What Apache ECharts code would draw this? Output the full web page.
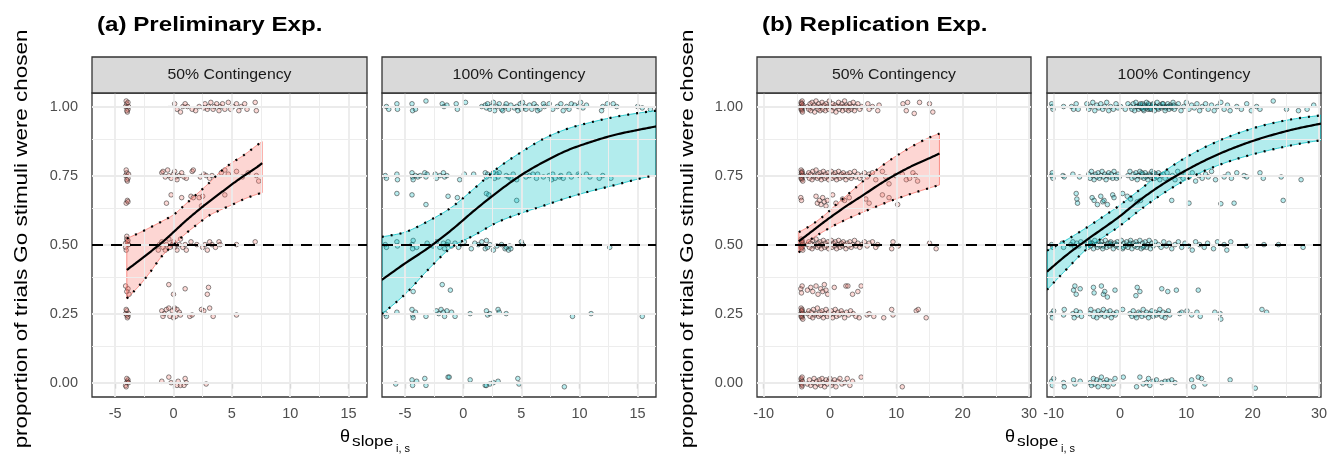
<!DOCTYPE html>
<html>
<head>
<meta charset="utf-8">
<script src="https://cdn.jsdelivr.net/npm/echarts@6/dist/echarts.min.js"></script>
<style>
  html, body { margin: 0; padding: 0; background: #ffffff; }
  #chart { width: 1337px; height: 455px; }
</style>
</head>
<body>
<div id="chart"></div>
<script>
// ---------------- data ----------------
const panelTitles = ['(a) Preliminary Exp.', '(b) Replication Exp.'];
const stripLabels = ['50% Contingency', '100% Contingency', '50% Contingency', '100% Contingency'];
const yLabelText = 'proportion of trials Go stimuli were chosen';

const yTicks = [0, 0.25, 0.5, 0.75, 1];
const yMinor = [0.125, 0.375, 0.625, 0.875];
const xTicksPrelim = [-5, 0, 5, 10, 15];
const xMinorPrelim = [-2.5, 2.5, 7.5, 12.5];
const xTicksRepl = [-10, 0, 10, 20, 30];
const xMinorRepl = [-5, 5, 15, 25];

// fitted curve and interval, Preliminary / 50%
const prelimHalfX   = [-4, -3, -2, -1, 0, 1, 2, 3, 4, 5, 6, 7, 7.6];
const prelimHalfFit = [0.408, 0.44, 0.473, 0.507, 0.545, 0.584, 0.62, 0.654, 0.686, 0.718, 0.748, 0.776, 0.795];
const prelimHalfUp  = [0.522, 0.541, 0.562, 0.584, 0.608, 0.645, 0.683, 0.721, 0.763, 0.796, 0.823, 0.855, 0.873];
const prelimHalfLo  = [0.305, 0.348, 0.40, 0.458, 0.499, 0.538, 0.572, 0.604, 0.625, 0.644, 0.664, 0.68, 0.688];

// Preliminary / 100%
const prelimFullX   = [-7, -5, -3, -1, 1, 3, 5, 7, 9, 11, 13, 15, 16.6];
const prelimFullFit = [0.372, 0.432, 0.488, 0.553, 0.625, 0.692, 0.752, 0.801, 0.842, 0.872, 0.897, 0.915, 0.928];
const prelimFullUp  = [0.528, 0.545, 0.585, 0.635, 0.705, 0.778, 0.835, 0.885, 0.92, 0.943, 0.962, 0.976, 0.985];
const prelimFullLo  = [0.248, 0.32, 0.41, 0.49, 0.535, 0.582, 0.614, 0.642, 0.67, 0.694, 0.715, 0.737, 0.752];

// Replication / 50%
const replHalfX   = [-4.7, -3, -1, 1, 3, 5, 7, 9, 11, 13, 15, 16.5];
const replHalfFit = [0.512, 0.543, 0.58, 0.615, 0.648, 0.679, 0.711, 0.741, 0.768, 0.792, 0.813, 0.83];
const replHalfUp  = [0.545, 0.568, 0.603, 0.646, 0.688, 0.73, 0.77, 0.805, 0.836, 0.864, 0.888, 0.902];
const replHalfLo  = [0.471, 0.516, 0.547, 0.574, 0.597, 0.618, 0.638, 0.657, 0.674, 0.69, 0.705, 0.716];

// Replication / 100%
const replFullX   = [-11, -8, -5, -2, 0, 3, 6, 9, 12, 15, 18, 21, 24, 27, 30.3];
const replFullFit = [0.402, 0.463, 0.517, 0.568, 0.603, 0.661, 0.712, 0.756, 0.795, 0.829, 0.858, 0.883, 0.904, 0.922, 0.938];
const replFullUp  = [0.478, 0.518, 0.562, 0.61, 0.643, 0.699, 0.754, 0.802, 0.843, 0.877, 0.905, 0.928, 0.945, 0.958, 0.968];
const replFullLo  = [0.336, 0.412, 0.484, 0.535, 0.568, 0.625, 0.677, 0.722, 0.759, 0.789, 0.813, 0.833, 0.85, 0.865, 0.878];

// jittered participant observations [theta_slope, proportion]
const prelimHalfPts = [
  [-4.0,1.01],[-3.9,0.99],[-4.1,1.0],[-3.95,0.98],[-4.05,1.02],[-3.85,1.0],[-4.0,0.985],[-3.9,1.015],
  [0.1,1.01],[0.3,0.99],[0.6,0.98],[0.8,1.0],[1.0,1.01],[1.2,1.0],[1.6,0.99],[1.9,0.985],[2.2,1.0],[2.6,0.995],[2.7,1.01],[2.9,0.99],[3.0,1.0],[3.2,1.015],[3.4,0.99],[3.5,1.0],[3.7,1.01],[3.9,0.985],[4.0,1.0],[4.2,1.01],[4.4,0.99],[4.7,1.015],[4.9,0.99],[5.1,1.0],[5.4,1.01],[5.6,0.985],[5.8,1.0],[6.1,1.01],[6.3,0.99],[7.0,1.015],[7.1,0.985],
  [-4.0,0.76],[-3.9,0.74],[-4.1,0.75],[-3.95,0.73],[-4.05,0.77],[-3.85,0.755],[-4.0,0.735],[-3.95,0.66],[-4.05,0.65],[-3.9,0.655],
  [-1.0,0.76],[-0.9,0.765],[-0.7,0.745],[-0.5,0.77],[-0.4,0.75],[-0.2,0.74],[0.0,0.755],[0.1,0.765],[0.2,0.745],[0.3,0.735],[0.5,0.75],[0.7,0.76],[0.9,0.745],[1.1,0.74],[1.6,0.765],[1.7,0.77],[2.3,0.745],[2.6,0.755],[2.8,0.75],[3.1,0.74],[3.3,0.75],[4.1,0.76],[4.4,0.77],[4.7,0.755],[5.4,0.765],[5.9,0.745],[6.4,0.76],[7.1,0.75],[7.3,0.73],
  [-0.6,0.65],[-0.2,0.68],[0.7,0.67],[1.5,0.675],[1.7,0.67],[2.2,0.67],[2.4,0.64],[4.4,0.68],[2.5,0.675],
  [-4.0,0.52],[-3.9,0.5],[-4.1,0.49],[-3.95,0.51],[-4.05,0.48],[-3.85,0.5],[-4.0,0.53],[-3.9,0.515],[-4.1,0.505],
  [-1.3,0.48],[-1.2,0.5],[-1.0,0.51],[-0.9,0.49],[-0.7,0.48],[-0.6,0.5],[-0.4,0.52],[-0.3,0.49],[-0.1,0.5],[0.0,0.51],[0.1,0.49],[0.2,0.5],[0.3,0.48],[0.5,0.5],[0.6,0.52],[0.8,0.49],[1.0,0.5],[1.1,0.48],[1.5,0.51],[2.0,0.5],[2.5,0.49],[2.7,0.5],[2.9,0.48],[3.1,0.51],[3.3,0.5],[3.6,0.49],[3.9,0.51],[4.0,0.5],[5.4,0.5],[7.0,0.51],
  [-3.9,0.34],[-4.0,0.33],[-3.8,0.32],[-4.1,0.35],[-0.4,0.355],[0.0,0.32],[1.0,0.34],[2.9,0.32],[3.0,0.345],
  [-4.0,0.26],[-3.9,0.24],[-4.1,0.25],[-3.95,0.235],[-4.05,0.265],[-3.85,0.25],[-4.0,0.245],
  [-1.0,0.26],[-0.9,0.24],[-0.8,0.25],[-0.6,0.265],[-0.4,0.27],[-0.3,0.24],[-0.1,0.26],[0.0,0.235],[0.1,0.27],[0.2,0.24],[0.3,0.265],[0.5,0.255],[0.6,0.245],[1.4,0.24],[1.6,0.245],[2.4,0.265],[2.6,0.26],[3.1,0.27],[3.4,0.24],[5.4,0.245],
  [-4.0,0.0],[-3.9,0.01],[-4.1,-0.01],[-3.95,0.005],[-4.05,-0.015],[-3.85,0.0],[-4.0,0.015],
  [-1.0,0.005],[-0.4,0.02],[-0.2,0.0],[0.3,-0.01],[0.4,0.005],[0.6,-0.01],[0.9,-0.01],[1.0,0.015],[1.1,0.0],[2.8,-0.005]
];

const prelimFullPts = [
  [-6.6,1.0],[-6.4,0.99],[-5.7,1.01],[-5.65,0.99],[-4.4,1.01],[-4.35,0.985],[-4.1,0.99],[-3.2,1.02],[-1.8,1.01],[-1.65,1.0],[-1.4,1.005],[-0.6,1.01],[-0.5,0.99],[0.2,1.015],[1.6,1.0],[1.9,1.005],[2.0,0.995],[2.1,1.01],[2.3,0.99],[2.4,1.0],[2.6,1.015],[2.7,0.985],[2.9,1.0],[3.1,1.01],[3.3,0.99],[3.4,0.985],[3.6,1.0],[3.7,1.01],[3.9,0.99],[4.1,1.005],[4.4,0.995],[4.6,1.0],[4.7,0.985],[4.9,1.01],[5.0,0.99],[5.1,1.015],[5.3,1.0],[5.4,0.99],[5.7,1.005],[5.9,0.99],[6.1,1.01],[6.3,1.0],[6.4,0.985],[6.6,0.99],[6.9,1.01],[7.0,1.0],[7.4,1.01],[7.7,0.99],[8.1,1.0],[8.4,1.01],[8.6,0.985],[8.9,1.0],[9.1,0.99],[9.3,1.01],[9.6,1.005],[9.9,1.0],[10.1,1.015],[10.3,0.995],[10.6,1.005],[11.9,0.985],[12.0,1.0],[12.4,1.01],[12.9,1.01],[13.2,1.0],[15.0,1.0],[15.4,0.995],[16.1,0.99],
  [-6.7,0.75],[-6.6,0.74],[-5.7,0.755],[-5.65,0.735],[-4.4,0.76],[-4.35,0.745],[-4.3,0.735],[-4.1,0.75],[-3.9,0.745],[-3.7,0.75],[-3.3,0.76],[-3.2,0.745],[-3.1,0.755],[-2.4,0.755],[-2.3,0.74],[-2.0,0.75],[-1.7,0.76],[-1.6,0.745],[-1.4,0.75],[-0.3,0.735],[0.1,0.755],[0.9,0.755],[1.9,0.76],[2.0,0.745],[2.1,0.755],[2.4,0.75],[2.6,0.76],[2.7,0.74],[2.9,0.755],[3.0,0.745],[3.1,0.76],[3.7,0.75],[3.9,0.745],[4.1,0.74],[4.3,0.755],[4.6,0.735],[5.4,0.745],[5.7,0.75],[6.0,0.755],[6.3,0.74],[6.4,0.755],[6.9,0.745],[7.4,0.75],[7.6,0.735],[7.7,0.755],[7.9,0.74],[8.3,0.745],[8.4,0.75],[8.6,0.74],[9.1,0.755],[9.3,0.745],[9.9,0.755],[10.0,0.75],[10.6,0.755],[10.9,0.745],[11.7,0.74],[12.0,0.75],[12.7,0.74],
  [-5.7,0.685],[-4.4,0.68],[-3.2,0.645],[-1.3,0.675],[-0.5,0.67],[2.0,0.685],[2.2,0.68],[4.6,0.66],
  [-6.7,0.5],[-6.6,0.49],[-5.7,0.51],[-5.65,0.495],[-4.4,0.5],[-4.35,0.485],[-4.3,0.515],[-4.0,0.49],[-3.1,0.505],[-2.6,0.495],[-2.3,0.51],[-2.0,0.49],[-1.7,0.505],[-1.6,0.485],[-1.4,0.5],[-1.3,0.51],[-1.0,0.495],[-0.7,0.505],[-0.4,0.49],[-0.1,0.5],[0.1,0.51],[0.7,0.485],[1.0,0.505],[1.3,0.5],[1.6,0.51],[1.9,0.485],[2.0,0.515],[2.1,0.49],[2.3,0.5],[2.6,0.48],[2.9,0.495],[3.3,0.5],[3.6,0.485],[3.7,0.49],[3.9,0.48],[4.0,0.495],[4.1,0.485],[5.0,0.51],[5.1,0.5],[12.6,0.49],
  [-4.3,0.33],[-1.8,0.355],[-1.1,0.335],
  [-6.7,0.25],[-6.6,0.24],[-5.7,0.255],[-4.4,0.265],[-4.35,0.245],[-4.3,0.235],[-4.1,0.255],[-3.2,0.24],[-2.3,0.26],[-2.1,0.25],[-1.9,0.265],[-1.7,0.255],[-1.6,0.24],[-1.4,0.26],[-1.0,0.255],[-0.7,0.24],[0.6,0.25],[2.0,0.26],[2.1,0.245],[2.3,0.25],[3.0,0.265],[3.1,0.255],[3.7,0.25],[9.4,0.24],[11.0,0.25],[15.4,0.24],
  [-5.8,-0.005],[-4.4,0.01],[-4.35,-0.01],[-4.0,0.005],[-3.3,0.015],[-3.2,-0.01],[-1.3,0.02],[-1.2,0.02],[0.6,0.01],[1.9,-0.01],[2.0,-0.01],[2.3,-0.005],[2.6,0.0],[3.0,0.005],[4.7,0.015],[4.8,-0.005],[8.7,-0.015]
];

const replHalfPts = [
  [-4.4,1.0],[-4.3,1.01],[-4.2,0.99],[-4.35,1.015],[-4.25,0.985],[-4.15,1.0],[-4.3,0.995],[-4.2,1.02],[-4.1,1.005],[-4.35,0.99],[-4.25,1.01],[-4.15,0.98],
  [-3.4,1.0],[-3.2,0.99],[-3.0,1.01],[-2.9,0.985],[-2.7,1.015],[-2.6,0.995],[-2.4,1.005],[-2.3,0.98],[-2.1,1.02],[-2.0,1.0],[-1.8,0.99],[-1.7,1.01],[-1.5,0.985],[-1.4,1.0],[-1.2,1.015],[-1.1,0.99],[-0.9,1.005],[-0.7,0.985],[-0.6,1.01],[-0.4,1.0],[-0.2,0.99],[-0.1,1.02],[0.1,1.0],[0.3,0.985],[0.4,1.01],[0.6,0.995],[0.8,1.005],[0.9,0.98],[1.1,1.0],[1.3,1.015],[1.4,0.99],[1.6,1.0],[1.8,1.01],[1.9,0.985],[2.1,1.0],[2.2,1.02],[2.4,0.99],[2.5,1.005],[2.7,1.0],[2.8,0.985],[3.0,1.01],[3.2,0.99],[3.3,1.0],[3.5,1.015],[3.7,0.985],[3.9,1.0],[4.2,1.01],[4.5,0.99],[4.8,1.0],[5.7,1.01],[5.9,0.99],[6.4,1.0],[7.2,0.985],[7.4,1.005],[11.0,1.01],[11.5,0.985],[11.7,1.015],[12.7,0.975],[13.5,1.015],[15.0,1.01],[15.5,0.98],
  [-4.4,0.75],[-4.3,0.76],[-4.2,0.74],[-4.35,0.77],[-4.25,0.735],[-4.15,0.755],[-4.3,0.745],[-4.2,0.765],[-4.1,0.73],[-4.35,0.74],[-4.25,0.76],[-4.15,0.75],
  [-3.4,0.75],[-3.2,0.76],[-3.1,0.74],[-2.9,0.755],[-2.7,0.735],[-2.6,0.765],[-2.4,0.745],[-2.3,0.75],[-2.1,0.77],[-1.9,0.74],[-1.8,0.755],[-1.6,0.745],[-1.5,0.76],[-1.3,0.735],[-1.2,0.75],[-1.0,0.765],[-0.8,0.74],[-0.7,0.755],[-0.5,0.745],[-0.3,0.76],[-0.2,0.735],[0.0,0.75],[0.2,0.765],[0.3,0.74],[0.5,0.755],[0.7,0.745],[0.8,0.76],[1.0,0.735],[1.2,0.75],[1.3,0.765],[1.5,0.74],[1.7,0.755],[1.9,0.745],[2.0,0.76],[2.2,0.75],[2.4,0.735],[2.6,0.755],[2.8,0.745],[3.0,0.76],[3.2,0.74],[3.4,0.75],[3.7,0.765],[3.9,0.745],[4.2,0.755],[4.5,0.74],[4.8,0.75],[5.2,0.76],[5.6,0.745],[5.9,0.755],
  [6.4,0.76],[6.9,0.735],[7.9,0.765],[8.4,0.745],[8.9,0.72],[9.9,0.75],[10.9,0.755],[11.5,0.735],[12.0,0.74],[12.5,0.76],[12.9,0.75],[13.2,0.73],
  [-4.4,0.67],[-4.3,0.66],[-2.1,0.675],[-1.9,0.65],[-1.6,0.66],[-1.35,0.645],[-1.1,0.67],[-0.85,0.655],[-0.6,0.64],[-0.4,0.66],[0.4,0.68],[0.9,0.65],[1.9,0.665],[2.2,0.66],[2.9,0.67],[5.4,0.665],[5.9,0.65],[7.9,0.68],[8.9,0.67],[10.2,0.645],
  [-4.4,0.5],[-4.3,0.51],[-4.2,0.49],[-4.35,0.52],[-4.25,0.485],[-4.15,0.505],[-4.3,0.495],[-4.2,0.515],[-4.1,0.48],[-4.35,0.49],[-4.25,0.51],[-4.15,0.5],
  [-3.4,0.5],[-3.2,0.51],[-3.1,0.49],[-2.9,0.505],[-2.7,0.485],[-2.6,0.515],[-2.4,0.495],[-2.3,0.5],[-2.1,0.52],[-1.9,0.49],[-1.8,0.505],[-1.6,0.495],[-1.5,0.51],[-1.3,0.485],[-1.2,0.5],[-1.0,0.515],[-0.8,0.49],[-0.7,0.505],[-0.5,0.495],[-0.3,0.51],[-0.2,0.485],[0.0,0.5],[0.2,0.515],[0.3,0.49],[0.5,0.505],[0.7,0.495],[0.8,0.51],[1.0,0.485],[1.2,0.5],[1.3,0.515],[1.5,0.49],[1.7,0.505],[1.9,0.495],[2.0,0.51],[2.2,0.5],[2.4,0.485],[2.6,0.505],[2.8,0.495],[3.0,0.51],[3.2,0.49],[3.4,0.5],[3.7,0.515],[3.9,0.495],[4.2,0.505],[4.5,0.49],[4.8,0.5],[5.2,0.51],[5.6,0.495],[5.9,0.505],
  [6.4,0.51],[6.9,0.49],[7.2,0.5],[9.3,0.485],[9.5,0.51],[10.3,0.495],[15.0,0.505],[16.0,0.485],
  [-4.4,0.34],[-4.3,0.325],[-4.2,0.35],[-3.4,0.335],[-2.9,0.345],[-2.6,0.33],[-2.1,0.35],[-1.8,0.32],[-1.4,0.34],[-1.1,0.33],[-0.85,0.355],[-0.6,0.335],[-0.35,0.32],[0.65,0.345],[2.4,0.35],[2.7,0.35],[3.4,0.32],[4.2,0.33],[4.7,0.35],
  [-4.4,0.25],[-4.3,0.26],[-4.2,0.24],[-4.35,0.27],[-4.25,0.235],[-4.15,0.255],[-4.3,0.245],[-4.2,0.265],[-4.1,0.23],[-4.35,0.24],[-4.25,0.26],[-4.15,0.25],
  [-3.4,0.25],[-3.2,0.26],[-3.0,0.24],[-2.8,0.255],[-2.6,0.235],[-2.5,0.265],[-2.3,0.245],[-2.1,0.25],[-1.9,0.27],[-1.7,0.24],[-1.5,0.255],[-1.4,0.245],[-1.2,0.26],[-1.0,0.235],[-0.8,0.25],[-0.6,0.265],[-0.4,0.24],[-0.2,0.255],[0.0,0.245],[0.2,0.26],[0.4,0.235],[0.6,0.25],[0.8,0.265],[1.0,0.24],[1.2,0.255],[1.4,0.245],[1.7,0.26],[1.9,0.25],[2.2,0.235],[2.5,0.255],[2.8,0.245],[3.1,0.26],[3.5,0.25],[3.9,0.24],
  [4.4,0.235],[5.6,0.245],[5.9,0.25],[6.6,0.24],[8.1,0.235],[9.3,0.265],[9.5,0.245],[13.0,0.26],[13.3,0.265],[14.5,0.235],
  [-4.4,0.0],[-4.3,0.01],[-4.2,-0.01],[-4.35,0.015],[-4.25,-0.015],[-4.15,0.005],[-4.3,-0.005],[-4.2,0.02],
  [-3.4,-0.005],[-3.1,0.01],[-2.9,-0.01],[-2.6,0.0],[-2.4,0.015],[-2.2,-0.015],[-2.0,0.005],[-1.8,-0.005],[-1.6,0.01],[-1.4,-0.01],[-1.2,0.015],[-1.0,0.0],[-0.8,-0.015],[-0.6,0.01],[-0.4,-0.005],[-0.2,0.005],[0.0,0.015],[0.2,-0.01],[0.4,0.0],[0.7,0.01],[0.9,-0.015],[1.2,0.005],[1.5,0.015],[1.8,-0.005],[2.2,0.0],[2.6,0.015],[3.0,-0.01],[3.4,0.005],
  [4.7,0.02],[10.9,-0.015]
];

const replFullPts = [
  [-10.3,1.01],[-10.1,0.99],[-10.2,1.0],[-8.5,1.0],[-7.3,1.0],[-7.0,0.99],[-6.6,1.01],[-6.3,0.99],
  [-5.0,1.01],[-4.7,0.99],[-4.4,1.0],[-4.1,1.015],[-3.8,0.985],[-3.5,1.005],[-3.2,0.995],[-2.9,1.01],[-2.6,0.99],[-2.3,1.0],[-2.0,1.015],[-1.7,0.985],[-1.4,1.0],[-1.0,0.99],[-0.6,1.01],[-0.3,0.995],[0.1,1.0],[0.8,0.99],[1.2,1.01],
  [1.6,1.0],[1.8,0.99],[2.0,1.01],[2.2,0.985],[2.4,1.015],[2.6,1.0],[2.8,0.99],[3.0,1.005],[3.2,0.995],[3.4,1.01],[3.6,0.985],[3.8,1.0],[4.0,1.015],[4.2,0.99],[4.4,1.005],[4.6,0.995],[4.8,1.0],[5.0,1.01],[5.2,0.985],[5.4,1.0],[5.6,1.015],[5.8,0.99],[6.0,1.005],[6.2,0.995],[6.4,1.01],[6.6,1.0],[6.8,0.985],[7.0,1.0],[7.2,1.01],[7.4,0.99],[7.6,1.005],[7.8,0.995],[8.0,1.015],[8.2,0.99],[8.5,1.0],[8.8,1.01],
  [2.5,1.0],[2.9,1.0],[3.3,0.995],[3.7,1.005],[4.1,1.0],[4.5,0.99],[4.9,1.005],[5.3,1.0],[5.7,0.995],[6.1,1.0],[6.5,1.01],[6.9,0.995],[7.3,1.0],[7.7,1.0],[8.1,1.005],[3.1,1.01],[3.5,0.99],[3.9,0.995],[4.3,1.01],[4.7,0.99],
  [9.2,0.985],[9.6,1.0],[10.0,1.015],[10.4,0.99],[10.8,1.005],[11.2,0.995],[11.6,1.01],[12.0,0.985],[12.4,1.0],[12.9,1.01],[13.3,0.99],[13.8,1.005],[14.2,0.985],[14.7,1.0],[15.2,1.015],[15.7,0.99],[16.2,1.005],[16.6,0.985],
  [17.6,1.0],[18.3,0.99],[19.1,1.01],[19.8,0.985],[20.6,1.0],[21.1,0.99],[23.1,1.02],[25.1,0.99],[26.9,0.985],[28.2,0.99],[29.2,1.005],
  [-10.3,0.75],[-10.1,0.74],[-10.2,0.76],[-8.6,0.75],[-8.4,0.745],[-7.1,0.755],[-6.1,0.745],
  [-4.7,0.755],[-4.5,0.74],[-4.3,0.765],[-4.1,0.75],[-3.9,0.735],[-3.7,0.755],[-3.5,0.745],[-3.3,0.76],[-3.1,0.74],[-2.9,0.75],[-2.7,0.765],[-2.5,0.745],[-2.3,0.755],[-2.1,0.735],[-1.9,0.75],[-1.7,0.76],[-1.5,0.745],[-1.3,0.755],[-1.1,0.74],[-0.9,0.765],[-0.7,0.75],[-0.5,0.74],[-0.3,0.755],[-0.1,0.745],
  [1.2,0.75],[1.5,0.765],[1.8,0.74],[2.0,0.755],[2.2,0.745],[2.4,0.76],[2.6,0.735],[2.8,0.75],[3.0,0.765],[3.2,0.745],[3.4,0.755],[3.6,0.74],[3.8,0.76],[4.0,0.75],[4.2,0.735],[4.4,0.755],[4.6,0.745],[4.8,0.765],[5.0,0.75],[5.2,0.74],[5.4,0.755],[5.6,0.745],[5.8,0.76],[6.0,0.735],[6.2,0.75],[6.5,0.755],[6.8,0.74],[2.7,0.75],[3.3,0.76],[3.9,0.745],[4.5,0.75],[5.1,0.76],
  [7.1,0.76],[7.5,0.745],[7.9,0.75],[8.3,0.735],[8.7,0.765],[9.1,0.75],[9.5,0.74],[9.9,0.755],[10.4,0.745],[10.9,0.76],[11.4,0.73],[11.9,0.75],[12.4,0.74],[12.9,0.755],[13.3,0.745],
  [13.8,0.765],[14.4,0.735],[15.7,0.745],[16.3,0.755],[16.8,0.74],[17.6,0.76],[18.7,0.75],[19.1,0.745],[21.1,0.76],[21.6,0.74],[24.3,0.745],[27.3,0.735],
  [-6.6,0.685],[-6.5,0.665],[-6.4,0.65],[-4.2,0.67],[-3.9,0.66],[-3.4,0.645],[-2.9,0.675],[-2.6,0.655],[-2.4,0.66],[-1.9,0.645],[-1.1,0.68],[-0.9,0.67],[0.4,0.685],[1.1,0.675],[1.6,0.665],[2.6,0.655],[3.1,0.66],[7.8,0.66],[10.4,0.65],[15.2,0.648],[17.2,0.65],[24.6,0.66],
  [-10.3,0.5],[-10.1,0.49],[-8.7,0.505],[-8.5,0.49],
  [-7.4,0.5],[-7.1,0.51],[-6.8,0.49],[-6.5,0.505],[-6.2,0.495],[-5.9,0.51],
  [-5.0,0.5],[-4.8,0.49],[-4.6,0.51],[-4.4,0.495],[-4.2,0.505],[-4.0,0.485],[-3.8,0.515],[-3.6,0.5],[-3.4,0.49],[-3.2,0.505],[-3.0,0.495],[-2.8,0.51],[-2.6,0.485],[-2.4,0.5],[-2.2,0.515],[-2.0,0.49],[-1.8,0.505],[-1.6,0.495],[-1.4,0.51],[-1.2,0.5],[-1.0,0.485],[-0.8,0.505],[-0.6,0.495],[-0.4,0.51],[-0.2,0.49],[0.0,0.5],[0.2,0.515],[0.4,0.485],[0.6,0.505],[0.8,0.495],[1.0,0.51],[1.2,0.49],[1.4,0.5],[1.6,0.515],[1.8,0.485],[2.0,0.505],[2.2,0.495],[2.4,0.51],[2.6,0.49],[2.8,0.5],[3.0,0.515],[3.2,0.485],[3.4,0.505],[3.6,0.495],[3.8,0.51],[4.0,0.49],[4.2,0.5],[4.4,0.515],[4.6,0.485],[4.8,0.505],[5.0,0.495],[5.3,0.51],[-3.5,0.5],[-2.5,0.495],[-1.5,0.505],[-0.5,0.5],[0.5,0.49],[1.5,0.505],[2.5,0.5],[3.5,0.49],[-4.5,0.505],[-2.9,0.5],
  [5.8,0.5],[6.2,0.49],[6.6,0.51],[7.0,0.495],[7.4,0.505],[7.8,0.485],[8.3,0.5],[8.8,0.51],[9.3,0.49],[9.8,0.505],[10.3,0.495],[10.9,0.48],[11.4,0.51],[12.0,0.5],[12.7,0.49],
  [13.2,0.505],[14.1,0.485],[14.7,0.51],[15.7,0.5],[16.1,0.48],[16.7,0.51],[19.1,0.495],[21.7,0.5],[23.9,0.5],[27.6,0.49],
  [-7.0,0.335],[-6.8,0.35],[-6.6,0.32],[-6.0,0.34],[-4.0,0.345],[-3.9,0.325],[-2.8,0.35],[-2.5,0.32],[-2.3,0.33],[-1.9,0.31],[-0.75,0.335],[2.4,0.315],[2.6,0.345],[3.0,0.33],[6.3,0.34],[7.2,0.33],[8.5,0.335],[11.8,0.335],
  [-10.3,0.25],[-10.2,0.235],[-10.0,0.26],[-8.5,0.245],[-8.4,0.265],[-7.1,0.25],[-6.9,0.235],[-6.6,0.26],[-6.4,0.245],[-6.0,0.255],[-5.8,0.24],
  [-4.6,0.25],[-4.4,0.265],[-4.0,0.24],[-3.8,0.255],[-3.5,0.235],[-3.3,0.26],[-3.0,0.245],[-2.8,0.25],[-2.5,0.265],[-2.3,0.24],[-2.0,0.255],[-1.8,0.245],[-1.5,0.26],[-1.3,0.235],[-1.0,0.25],[-0.7,0.245],[-0.5,0.255],[0.4,0.265],
  [1.5,0.25],[1.8,0.24],[2.0,0.26],[2.3,0.245],[2.5,0.235],[2.8,0.255],[3.0,0.25],[3.3,0.24],[3.5,0.265],[3.8,0.245],[4.0,0.255],[4.3,0.235],[4.5,0.25],[4.8,0.26],[5.0,0.24],[5.3,0.255],[5.5,0.245],[5.8,0.25],[6.0,0.265],[6.3,0.24],[6.5,0.255],[6.8,0.235],[7.0,0.25],[7.3,0.26],[7.5,0.245],
  [9.0,0.25],[9.3,0.255],[10.1,0.26],[10.8,0.245],[11.6,0.255],[12.1,0.24],[14.3,0.255],[15.1,0.25],[15.2,0.23],[21.4,0.265],[22.1,0.255],
  [-10.3,0.005],[-10.2,-0.01],[-10.0,0.015],[-8.5,0.0],[-8.4,-0.015],[-7.0,0.01],[-6.8,-0.005],[-6.0,0.005],
  [-4.5,0.0],[-4.3,-0.01],[-4.0,0.015],[-3.8,-0.005],[-3.5,0.01],[-3.3,-0.015],[-3.0,0.005],[-2.8,0.02],[-2.5,-0.01],[-2.3,0.0],[-2.0,0.01],[-1.8,-0.015],[-1.5,0.005],[-1.0,-0.005],[-0.75,0.015],
  [0.5,0.02],[2.5,-0.015],[3.0,0.02],[3.5,-0.005],[4.0,0.0],[4.3,0.015],[4.5,-0.01],[5.0,0.005],[5.5,0.01],[6.3,0.0],[6.8,0.005],[7.3,0.005],[7.8,0.01],[8.3,0.0],[10.8,0.01],[11.1,-0.015],[11.8,0.02],[12.3,0.015],[12.8,-0.005],[16.6,0.01],[20.4,-0.02]
];

// ---------------- layout / style ----------------
const FONT = '"Liberation Sans", Arial, Helvetica, sans-serif';
const PANEL_TOP = 93, PANEL_H = 304, STRIP_TOP = 57, STRIP_H = 36;
const PINK = '#F8766D', CYAN = '#00BFC4';

const panels = [
  { left: 92,   width: 275, xMin: -6.98, xMax: 16.58, xMajor: xTicksPrelim, xMinor: xMinorPrelim,
    pts: prelimHalfPts, cx: prelimHalfX, fit: prelimHalfFit, up: prelimHalfUp, lo: prelimHalfLo, edge: PINK, showY: true },
  { left: 382,  width: 274, xMin: -6.98, xMax: 16.58, xMajor: xTicksPrelim, xMinor: xMinorPrelim,
    pts: prelimFullPts, cx: prelimFullX, fit: prelimFullFit, up: prelimFullUp, lo: prelimFullLo, edge: CYAN, showY: false },
  { left: 757,  width: 274, xMin: -11.0, xMax: 30.3, xMajor: xTicksRepl, xMinor: xMinorRepl,
    pts: replHalfPts, cx: replHalfX, fit: replHalfFit, up: replHalfUp, lo: replHalfLo, edge: PINK, showY: true },
  { left: 1047, width: 274, xMin: -11.0, xMax: 30.3, xMajor: xTicksRepl, xMinor: xMinorRepl,
    pts: replFullPts, cx: replFullX, fit: replFullFit, up: replFullUp, lo: replFullLo, edge: CYAN, showY: false }
];

function hexAlpha(hex, a) {
  const n = parseInt(hex.slice(1), 16);
  return 'rgba(' + ((n >> 16) & 255) + ',' + ((n >> 8) & 255) + ',' + (n & 255) + ',' + a + ')';
}

// Catmull-Rom spline through projected pixel points, for smooth drawing
function spline(px, steps) {
  const n = px.length, out = [px[0]];
  for (let i = 0; i < n - 1; i++) {
    const p0 = px[Math.max(i - 1, 0)], p1 = px[i], p2 = px[i + 1], p3 = px[Math.min(i + 2, n - 1)];
    for (let s = 1; s <= steps; s++) {
      const t = s / steps, t2 = t * t, t3 = t2 * t;
      const f = k => 0.5 * (2 * p1[k] + (-p0[k] + p2[k]) * t + (2 * p0[k] - 5 * p1[k] + 4 * p2[k] - p3[k]) * t2 +
        (-p0[k] + 3 * p1[k] - 3 * p2[k] + p3[k]) * t3);
      out.push([f(0), f(1)]);
    }
  }
  return out;
}

const grids = [], xAxes = [], yAxes = [], series = [], graphics = [];

panels.forEach((p, i) => {
  grids.push({ left: p.left, top: PANEL_TOP, width: p.width, height: PANEL_H, show: true,
    backgroundColor: '#ffffff', borderColor: '#333333', borderWidth: 1.3, containLabel: false, outerBoundsMode: 'none' });

  xAxes.push({ type: 'value', gridIndex: i, min: p.xMin, max: p.xMax,
    splitLine: { show: false }, axisLine: { show: false },
    axisTick: { show: true, customValues: p.xMajor, length: 6, lineStyle: { color: '#333333', width: 1.1 } },
    axisLabel: { customValues: p.xMajor, color: '#4D4D4D', fontSize: 14.5, fontFamily: FONT, margin: 9 } });

  yAxes.push({ type: 'value', gridIndex: i, min: -0.052, max: 1.049,
    splitLine: { show: false }, axisLine: { show: false },
    axisTick: { show: p.showY, customValues: yTicks, length: 6, lineStyle: { color: '#333333', width: 1.1 } },
    axisLabel: { show: p.showY, customValues: yTicks, color: '#4D4D4D', fontSize: 14.5, fontFamily: FONT, margin: 14,
      formatter: v => v.toFixed(2) } });

  const ax = { xAxisIndex: i, yAxisIndex: i };

  // panel grid lines
  const gridLines = [];
  p.xMajor.forEach(v => gridLines.push({ xAxis: v, lineStyle: { color: '#EBEBEB', width: 1.8, type: 'solid' } }));
  p.xMinor.forEach(v => gridLines.push({ xAxis: v, lineStyle: { color: '#EDEDED', width: 1.0, type: 'solid' } }));
  yTicks.forEach(v => gridLines.push({ yAxis: v, lineStyle: { color: '#EBEBEB', width: 1.8, type: 'solid' } }));
  yMinor.forEach(v => gridLines.push({ yAxis: v, lineStyle: { color: '#EDEDED', width: 1.0, type: 'solid' } }));
  series.push(Object.assign({ type: 'line', data: [], z: 1, silent: true,
    markLine: { silent: true, symbol: ['none', 'none'], label: { show: false }, animation: false, data: gridLines } }, ax));

  // participants
  series.push(Object.assign({ type: 'scatter', data: p.pts, symbol: 'circle', symbolSize: 4.6, z: 2, silent: true,
    itemStyle: { color: hexAlpha(p.edge, 0.35), borderColor: 'rgba(40,40,40,0.8)', borderWidth: 0.85 } }, ax));

  // credible band
  series.push(Object.assign({ type: 'custom', data: [[p.cx[0], p.fit[0]]], z: 3, silent: true, clip: true,
    renderItem: (params, api) => {
      const U = spline(p.cx.map((x, k) => api.coord([x, p.up[k]])), 12);
      const L = spline(p.cx.map((x, k) => api.coord([x, p.lo[k]])), 12);
      return { type: 'polygon', shape: { points: U.concat(L.slice().reverse()) },
        style: { fill: hexAlpha(p.edge, 0.3), stroke: p.edge, lineWidth: 0.8 } };
    } }, ax));

  // chance level
  series.push(Object.assign({ type: 'line', data: [], z: 5, silent: true,
    markLine: { silent: true, symbol: ['none', 'none'], label: { show: false }, animation: false,
      data: [{ yAxis: 0.5, lineStyle: { color: '#000000', width: 2.2, type: [11, 8] } }] } }, ax));

  // interval bounds (dotted) and fitted curve
  series.push(Object.assign({ type: 'custom', data: [[p.cx[0], p.fit[0]]], z: 6, silent: true, clip: true,
    renderItem: (params, api) => {
      const proj = ys => spline(p.cx.map((x, k) => api.coord([x, ys[k]])), 12);
      return { type: 'group', children: [
        { type: 'polyline', shape: { points: proj(p.up) }, style: { fill: 'none', stroke: '#000000', lineWidth: 2.2, lineDash: [2, 7] } },
        { type: 'polyline', shape: { points: proj(p.lo) }, style: { fill: 'none', stroke: '#000000', lineWidth: 2.2, lineDash: [2, 7] } },
        { type: 'polyline', shape: { points: proj(p.fit) }, style: { fill: 'none', stroke: '#000000', lineWidth: 2.2 } }
      ] };
    } }, ax));

  // facet strip
  graphics.push({ type: 'rect', shape: { x: p.left, y: STRIP_TOP, width: p.width, height: STRIP_H },
    style: { fill: '#D9D9D9', stroke: '#333333', lineWidth: 1.3 }, z: 10 });
  graphics.push({ type: 'text', x: p.left + p.width / 2, y: STRIP_TOP + STRIP_H / 2 + 0.5, scaleX: 1.13,
    style: { text: stripLabels[i], fill: '#1A1A1A', font: '14px ' + FONT, textAlign: 'center', textVerticalAlign: 'middle' }, z: 11 });
});

// titles, axis titles
[[97, 0], [762, 1]].forEach(([x, k]) => {
  graphics.push({ type: 'text', x: x, y: 25, scaleX: 1.15,
    style: { text: panelTitles[k], fill: '#000000', font: 'bold 21px ' + FONT, textAlign: 'left', textVerticalAlign: 'middle' } });
});
[[22, 0], [688, 2]].forEach(([x, k]) => {
  graphics.push({ type: 'text', x: x, y: 239, rotation: Math.PI / 2, scaleX: 1.18,
    style: { text: yLabelText, fill: '#000000', font: '19px ' + FONT, textAlign: 'center', textVerticalAlign: 'middle' } });
});
[[92, 656], [757, 1321]].forEach(([a, b]) => {
  const c = (a + b) / 2;
  graphics.push({ type: 'text', x: c - 34, y: 437.5,
    style: { text: 'θ', fill: '#000000', font: '18px ' + FONT, textAlign: 'left', textVerticalAlign: 'middle' } });
  graphics.push({ type: 'text', x: c - 22, y: 442, scaleX: 1.15,
    style: { text: 'slope', fill: '#000000', font: '15px ' + FONT, textAlign: 'left', textVerticalAlign: 'middle' } });
  graphics.push({ type: 'text', x: c + 22, y: 449, scaleX: 1.1,
    style: { text: 'i, s', fill: '#000000', font: '10px ' + FONT, textAlign: 'left', textVerticalAlign: 'middle' } });
});

const chart = echarts.init(document.getElementById('chart'), null, { renderer: 'canvas' });
chart.setOption({
  animation: false,
  backgroundColor: '#ffffff',
  grid: grids,
  xAxis: xAxes,
  yAxis: yAxes,
  series: series,
  graphic: { elements: graphics }
});
</script>
</body>
</html>
